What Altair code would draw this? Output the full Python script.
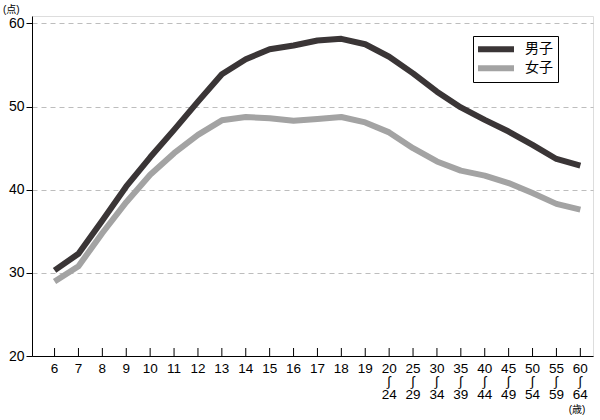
import altair as alt
import pandas as pd

FONT = "Liberation Sans, Noto Sans CJK JP, DejaVu Sans, sans-serif"

ages = ["6", "7", "8", "9", "10", "11", "12", "13", "14", "15", "16", "17", "18", "19",
        "20-24", "25-29", "30-34", "35-39", "40-44", "45-49", "50-54", "55-59", "60-64"]
age_labels = ["6", "7", "8", "9", "10", "11", "12", "13", "14", "15", "16", "17", "18", "19",
              "20|∫|24", "25|∫|29", "30|∫|34", "35|∫|39", "40|∫|44", "45|∫|49",
              "50|∫|54", "55|∫|59", "60|∫|64"]
male = [30.3, 32.3, 36.3, 40.4, 43.9, 47.2, 50.6, 53.9, 55.7, 56.9, 57.35, 57.95, 58.15,
        57.5, 56.0, 54.0, 51.8, 49.9, 48.4, 47.0, 45.4, 43.7, 42.9]
female = [28.95, 30.8, 34.8, 38.5, 41.8, 44.4, 46.6, 48.35, 48.75, 48.6, 48.3, 48.5, 48.75,
          48.1, 46.9, 45.0, 43.4, 42.3, 41.7, 40.8, 39.6, 38.3, 37.6]
series = ["男子", "女子"]
colors = ["#3a3536", "#a3a3a3"]

rows = []
for i, a in enumerate(ages):
    rows.append({"idx": i, "age": a, "sex": series[0], "score": male[i]})
    rows.append({"idx": i, "age": a, "sex": series[1], "score": female[i]})
df = pd.DataFrame(rows)

xscale = alt.Scale(domain=[-0.944, 22.53], nice=False, zero=False)
yscale = alt.Scale(domain=[20, 60.9], nice=False, zero=False)

lines = alt.Chart(df).mark_line(strokeWidth=6, strokeCap="butt", strokeJoin="round").encode(
    x=alt.X("idx:Q", scale=xscale,
            axis=alt.Axis(values=list(range(len(ages))), labels=False, title=None,
                          grid=False, ticks=False, domainColor="black")),
    y=alt.Y("score:Q", scale=yscale,
            axis=alt.Axis(values=[20, 30, 40, 50, 60], title=None, grid=True,
                          gridDash=[5, 4], gridColor="#bdbdbd", gridWidth=1,
                          tickColor="black", tickSize=6, labelFontSize=14,
                          labelPadding=2, labelColor="black", labelFont=FONT,
                          domainColor="black")),
    color=alt.Color("sex:N", scale=alt.Scale(domain=series, range=colors),
                    legend=alt.Legend(title=None, orient="none", legendX=441, legendY=20,
                                      strokeColor="black", padding=5,
                                      symbolType="M-6,0H6", symbolSize=36,
                                      symbolStrokeWidth=6, symbolOffset=11,
                                      labelFontSize=14, clipHeight=16.4,
                                      labelFont=FONT, labelColor="black",
                                      labelOffset=22, rowPadding=2)),
    order="idx:Q",
)

tick_df = pd.DataFrame({"idx": list(range(len(ages))), "label": age_labels})
ticks = alt.Chart(tick_df).mark_rule(color="black", strokeWidth=1).encode(
    x=alt.X("idx:Q", scale=xscale), y=alt.value(340), y2=alt.value(332)
)
xlabels = alt.Chart(tick_df).mark_text(
    fontSize=13.5, font=FONT, align="center", baseline="top", lineBreak="|",
    lineHeight=12.8, color="black"
).encode(x=alt.X("idx:Q", scale=xscale), y=alt.value(346), text="label:N")

unit_y = alt.Chart(pd.DataFrame({"t": ["(点)"]})).mark_text(
    fontSize=10, font=FONT, align="left", baseline="middle", color="black"
).encode(text="t:N", x=alt.value(-29), y=alt.value(-6))

unit_x = alt.Chart(pd.DataFrame({"t": ["(歳)"]})).mark_text(
    fontSize=10, font=FONT, align="center", baseline="middle", color="black"
).encode(text="t:N", x=alt.value(545), y=alt.value(394))

chart = alt.layer(ticks, lines, xlabels, unit_y, unit_x).properties(
    width=561, height=340,
    padding={"left": 32, "top": 16, "right": 7, "bottom": 64},
    autosize=alt.AutoSizeParams(type="none"),
).configure_view(stroke=None).configure(background="white")

chart.save("out.html", embed_options={"renderer": "svg", "actions": False})
